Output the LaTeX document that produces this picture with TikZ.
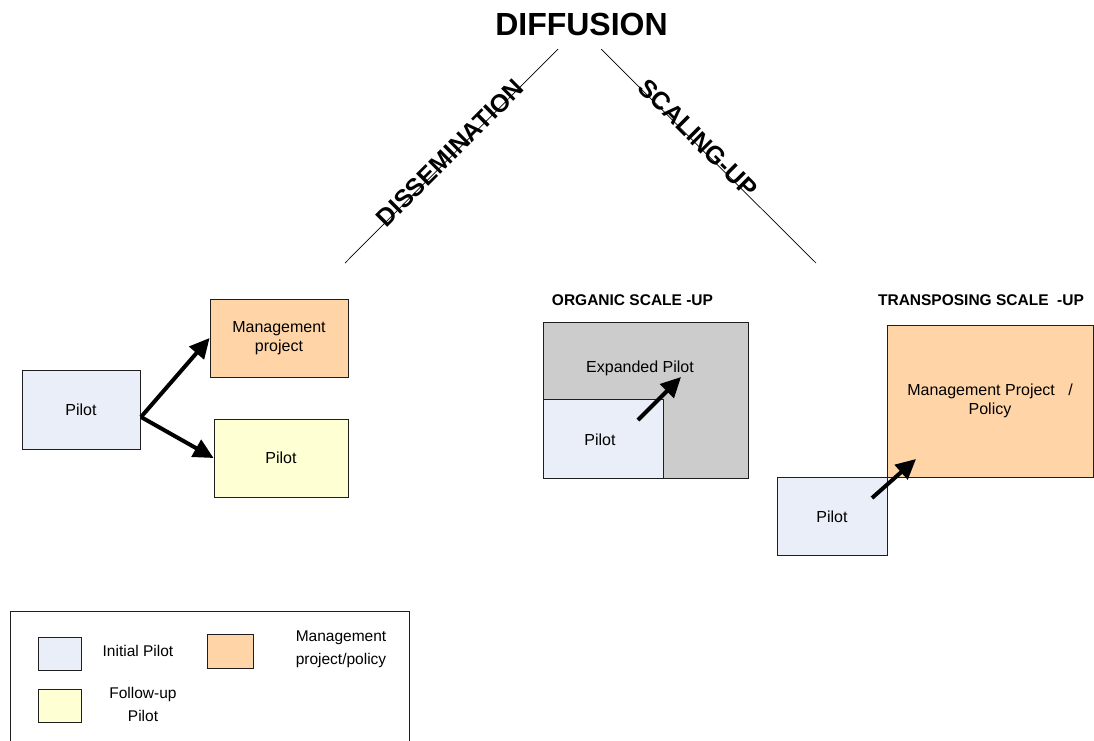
\documentclass[tikz,border=0pt]{standalone}
\usepackage{fontspec}
\setmainfont{Liberation Sans}
\usepackage{xcolor}
\usetikzlibrary{arrows.meta,positioning}
\definecolor{dfPilot}{RGB}{234,238,248}
\definecolor{dfPeach}{RGB}{255,213,168}
\definecolor{dfLemon}{RGB}{255,255,212}
\definecolor{dfGrey}{RGB}{204,204,204}
\definecolor{dfInk}{RGB}{30,30,30}
\tikzset{
  box/.style={draw=dfInk,line width=0.8pt,rectangle,inner sep=0pt,align=center,font=\fontsize{16}{19}\selectfont},
  pilotbox/.style={box,fill=dfPilot},
  mgmtbox/.style={box,fill=dfPeach},
  followbox/.style={box,fill=dfLemon},
  fatarrow/.style={line width=4pt,-{Triangle[length=20pt,width=19pt]}},
  branch/.style={line width=0.7pt,draw=black},
  heading/.style={font=\fontsize{15.5}{18}\selectfont\bfseries},
  slanted/.style={font=\fontsize{25}{28}\selectfont\bfseries},
  keytext/.style={align=center,font=\fontsize{15.5}{23}\selectfont}
}

\begin{document}
\begin{tikzpicture}[x=1pt,y=-1pt]
  \useasboundingbox (0,0) rectangle (1094,740);
  % top of the tree
  \node[font=\fontsize{32}{34}\selectfont\bfseries] (diff) at (581.5,24) {DIFFUSION};
  \coordinate (dLow) at (345,263); \coordinate (dTop) at (558,49);
  \coordinate (sTop) at (601,49); \coordinate (sLow) at (816,263);
  \draw[branch] (dLow) -- (dTop);
  \draw[branch] (sTop) -- (sLow);
  \node[slanted,rotate=45] (dissLbl) at (450,153) {DISSEMINATION};
  \node[slanted,rotate=-45] (scaleLbl) at (698,138) {SCALING-UP};
  % dissemination
  \node[pilotbox,minimum width=118pt,minimum height=79pt] (pilotA) at (81,409.5) {Pilot};
  \node[mgmtbox,minimum width=138pt,minimum height=78pt] (mgmtA) at (279,338) {Management\\project};
  \node[followbox,minimum width=134pt,minimum height=78pt] (pilotB) at (281,458) {Pilot};
  \coordinate (fork) at (141,417);
  \draw[fatarrow] (fork) -- (mgmtA.west);
  \draw[fatarrow] (fork) -- (pilotB.west);
  % organic scale-up
  \node[heading] (orgHead) at (632.5,300) {ORGANIC SCALE -UP};
  \node[box,fill=dfGrey,minimum width=205pt,minimum height=156pt] (orgBox) at (645.5,400) {};
  \node[pilotbox,minimum width=120pt,minimum height=79pt] (pilotO) at (603,438.5) {};
  \node[font=\fontsize{16}{19}\selectfont] (orgText) at (640,368) {Expanded Pilot};
  \node[font=\fontsize{16}{19}\selectfont] (pilotOText) at (600,440) {Pilot};
  \coordinate (orgFrom) at (638,420); \coordinate (orgTo) at (681,377);
  \draw[fatarrow] (orgFrom) -- (orgTo);
  % transposing scale-up
  \node[heading] (trHead) at (981,300) {TRANSPOSING SCALE~~-UP};
  \node[mgmtbox,minimum width=206pt,minimum height=152pt] (mgmtC) at (990,401) {Management Project~~~/\\Policy};
  \node[pilotbox,minimum width=110pt,minimum height=78pt] (pilotC) at (832,516.5) {Pilot};
  \coordinate (trFrom) at (872,498); \coordinate (trTo) at (916,459);
  \draw[fatarrow] (trFrom) -- (trTo);
  % key
  \draw[draw=dfInk,line width=0.8pt] (10,611) rectangle (409,746);
  \node[pilotbox,minimum width=43pt,minimum height=33pt] (keyPilot) at (59.5,653.5) {};
  \node[followbox,minimum width=43pt,minimum height=33pt] (keyFollow) at (59.5,705.5) {};
  \node[mgmtbox,minimum width=46pt,minimum height=34pt] (keyMgmt) at (230.5,651) {};
  \node[keytext] (keyPilotTxt) at (138,651) {Initial Pilot};
  \node[keytext] (keyFollowTxt) at (143,704) {Follow-up\\Pilot};
  \node[keytext] (keyMgmtTxt) at (341,649) {Management\\project/policy};
\end{tikzpicture}
\end{document}
